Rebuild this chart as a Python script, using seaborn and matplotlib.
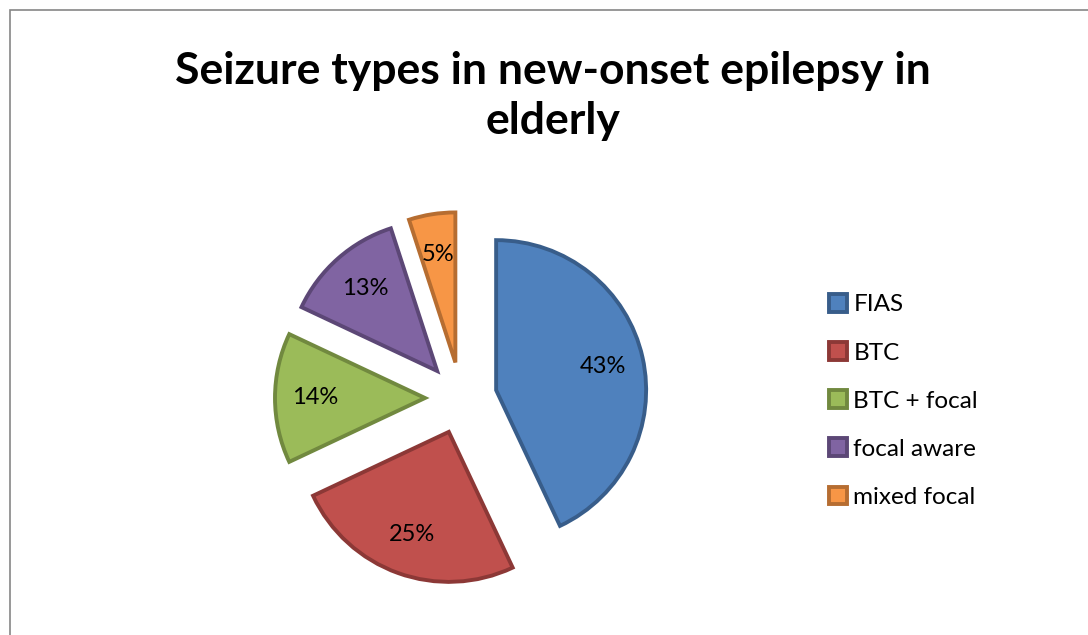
import matplotlib
matplotlib.use('Agg')
import matplotlib.pyplot as plt
import matplotlib.patches as mpatches
import seaborn as sns

# Data
labels = ['FIAS', 'BTC', 'BTC + focal', 'focal aware', 'mixed focal']
shares = [43, 25, 14, 13, 5]
fills = ['#4F81BD', '#C0504D', '#9BBB59', '#8064A2', '#F79646']
edges = ['#385D8A', '#8C3836', '#71893F', '#5C4776', '#B66D31']

sns.set_theme(style='white')
plt.rcParams['font.family'] = ['Lato', 'DejaVu Sans']
plt.rcParams['text.color'] = 'black'

W, H = 1088, 635
fig = plt.figure(figsize=(W / 100, H / 100), dpi=100)
# axes in pixel units so the pie keeps a true circle
ax = fig.add_axes([0, 0, 1, 1])

palette = sns.color_palette(fills)
# explode is in data units here (pixels)
wedges, texts, autotexts = ax.pie(
    shares, colors=palette, startangle=90, counterclock=False,
    explode=[36] * len(shares), center=(461, H - 398), radius=150,
    autopct='%d%%', pctdistance=0.73,
    wedgeprops={'linewidth': 2.8}, textprops={'fontsize': 17, 'color': 'black'})
for w, ec in zip(wedges, edges):
    w.set_edgecolor(ec)
    w.set_joinstyle('miter')

ax.set_xlim(0, W)
ax.set_ylim(0, H)
ax.set_aspect('equal')
ax.axis('off')

leg = ax.legend(wedges, labels, loc='center left',
                bbox_to_anchor=(829 / W, 1 - 401 / H), bbox_transform=fig.transFigure,
                frameon=False, fontsize=17.5, handlelength=0.75, handleheight=0.75,
                handletextpad=0.25, labelspacing=1.1, borderpad=0, borderaxespad=0)
for t in leg.get_texts():
    t.set_color('black')

fig.text(553 / W, 1 - 96 / H, 'Seizure types in new-onset epilepsy in\nelderly',
         ha='center', va='center', fontsize=32, fontweight='bold',
         color='black', linespacing=1.28)

# chart area border (cut off at right and bottom)
fig.patches.append(mpatches.Rectangle((10 / W, -0.1), 1.2, 1.1 - 10 / H,
                                      transform=fig.transFigure, fill=False,
                                      edgecolor='#868686', linewidth=1.2))

fig.savefig('out.png', dpi=100, facecolor='white')
